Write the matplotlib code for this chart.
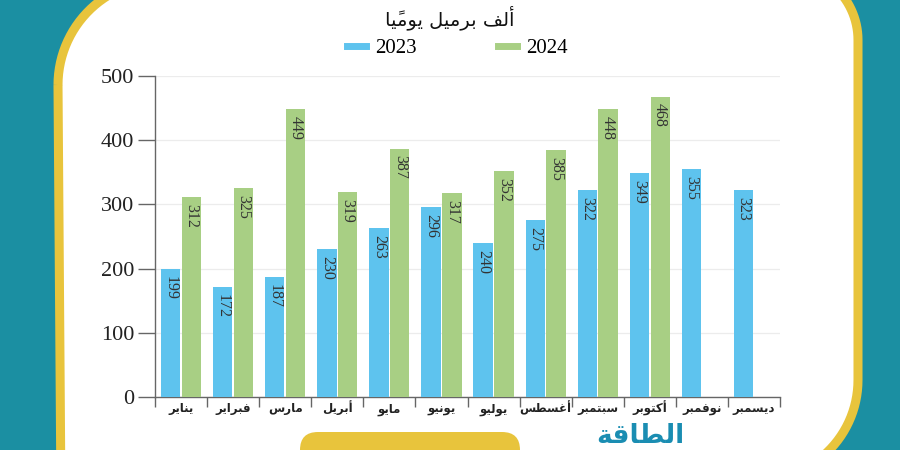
import numpy as np
import matplotlib
matplotlib.use('Agg')
import matplotlib.pyplot as plt
from matplotlib.path import Path
from matplotlib.patches import PathPatch, FancyBboxPatch
from matplotlib.lines import Line2D

# data
meses = ['يناير', 'فبراير', 'مارس', 'أبريل', 'مايو', 'يونيو',
         'يوليو', 'أغسطس', 'سبتمبر', 'أكتوبر', 'نوفمبر', 'ديسمبر']
valores_2023 = [199, 172, 187, 230, 263, 296, 240, 275, 322, 349, 355, 323]
valores_2024 = [312, 325, 449, 319, 387, 317, 352, 385, 448, 468]
series = ['2023', '2024']
titulo = 'ألف برميل يوميًا'
logo = 'الطاقة'

cor_azul = '#5ec3ee'
cor_verde = '#a8cf84'
cor_fundo = '#1b8fa2'
cor_amarelo = '#e8c43c'

# matplotlib nao faz shaping de arabe: formas de apresentacao + ordem visual
FORMAS = {
    'ا': ('\uFE8D', '\uFE8E', None, None),
    'أ': ('\uFE83', '\uFE84', None, None),
    'ب': ('\uFE8F', '\uFE90', '\uFE91', '\uFE92'),
    'ت': ('\uFE95', '\uFE96', '\uFE97', '\uFE98'),
    'د': ('\uFEA9', '\uFEAA', None, None),
    'ر': ('\uFEAD', '\uFEAE', None, None),
    'س': ('\uFEB1', '\uFEB2', '\uFEB3', '\uFEB4'),
    'ط': ('\uFEC1', '\uFEC2', '\uFEC3', '\uFEC4'),
    'غ': ('\uFECD', '\uFECE', '\uFECF', '\uFED0'),
    'ف': ('\uFED1', '\uFED2', '\uFED3', '\uFED4'),
    'ق': ('\uFED5', '\uFED6', '\uFED7', '\uFED8'),
    'ك': ('\uFED9', '\uFEDA', '\uFEDB', '\uFEDC'),
    'ل': ('\uFEDD', '\uFEDE', '\uFEDF', '\uFEE0'),
    'م': ('\uFEE1', '\uFEE2', '\uFEE3', '\uFEE4'),
    'ن': ('\uFEE5', '\uFEE6', '\uFEE7', '\uFEE8'),
    'ة': ('\uFE93', '\uFE94', None, None),
    'و': ('\uFEED', '\uFEEE', None, None),
    'ي': ('\uFEF1', '\uFEF2', '\uFEF3', '\uFEF4'),
}
MARCAS = '\u064B\u064C\u064D\u064E\u064F\u0650\u0651\u0652'


def arabe(texto):
    grupos = []
    for ch in texto:
        if ch in MARCAS and grupos:
            grupos[-1][1] += ch
        else:
            grupos.append([ch, ''])
    saida = []
    for i, (ch, marcas) in enumerate(grupos):
        if ch in FORMAS:
            ant = grupos[i - 1][0] if i > 0 else None
            prox = grupos[i + 1][0] if i + 1 < len(grupos) else None
            liga_ant = ant in FORMAS and FORMAS[ant][2] is not None
            liga_prox = prox in FORMAS and FORMAS[ch][2] is not None
            iso, fin, ini, med = FORMAS[ch]
            if liga_ant and liga_prox:
                ch = med
            elif liga_ant:
                ch = fin
            elif liga_prox:
                ch = ini
            else:
                ch = iso
        saida.append(ch + marcas)
    return ''.join(saida[::-1])


fig = plt.figure(figsize=(9, 4.5), dpi=100)
fig.patch.set_facecolor(cor_fundo)

# painel branco com borda amarela
bg = fig.add_axes([0, 0, 1, 1])
bg.set_xlim(0, 900)
bg.set_ylim(450, 0)
bg.axis('off')


def canto(cx, cy, r, a0, a1):
    t = np.radians(np.linspace(a0, a1, 30))
    return list(zip(cx + r * np.cos(t), cy + r * np.sin(t)))


pts = []
pts += canto(163, 85, 105, 180, 270)
pts += canto(786, 40, 72, 270, 360)
pts += canto(758, 380, 100, 0, 90)
pts += [(61, 500)]
pts.append(pts[0])
painel = PathPatch(Path(pts), facecolor='white', edgecolor=cor_amarelo, lw=6.5)
bg.add_patch(painel)

# pilula amarela e logo no rodape
bg.add_patch(FancyBboxPatch((300, 432), 220, 40, boxstyle='round,pad=0,rounding_size=18',
                            facecolor=cor_amarelo, edgecolor='none'))
bg.text(640, 449, arabe(logo), family='DejaVu Sans', fontweight='bold', fontsize=19,
        color='#1a8db2', ha='center', va='bottom')

ax = fig.add_axes([155 / 900, 53 / 450, 625 / 900, 321 / 450])
ax.patch.set_alpha(0)

x = np.arange(len(meses))
larg = 0.37
b1 = ax.bar(x - 0.2, valores_2023, larg, color=cor_azul, zorder=3)
b2 = ax.bar(x[:len(valores_2024)] + 0.2, valores_2024, larg, color=cor_verde, zorder=3)

for barras in (b1, b2):
    for b in barras:
        ax.annotate(str(int(b.get_height())), (b.get_x() + b.get_width() / 2, b.get_height()),
                    xytext=(0, -5), textcoords='offset points', rotation=270,
                    ha='center', va='top', fontsize=11.5, family='Liberation Serif',
                    color='#333333', zorder=4)

ax.set_xlim(-0.5, 11.5)
ax.set_ylim(0, 500)
ax.set_yticks([0, 100, 200, 300, 400, 500])
ax.yaxis.grid(True, color='#ececec', lw=0.9, zorder=0)
for lab in ax.get_yticklabels():
    lab.set_family('Liberation Serif')
    lab.set_fontsize(16)
    lab.set_color('#222222')
ax.tick_params(axis='y', length=12, width=1, color='#666666', pad=3)

ax.set_xticks(x)
ax.set_xticklabels([arabe(m) for m in meses], family='DejaVu Sans', fontweight='bold',
                   fontsize=8.5, color='#222222', va='baseline')
ax.set_xticks(np.arange(-0.5, 12, 1), minor=True)
ax.tick_params(axis='x', which='major', length=0, pad=11)
ax.tick_params(axis='x', which='minor', length=7, width=1, color='#666666')

for s in ['top', 'right']:
    ax.spines[s].set_visible(False)
for s in ['left', 'bottom']:
    ax.spines[s].set_color('#666666')
    ax.spines[s].set_linewidth(1)

fig.text(0.5, 1 - 18 / 450, arabe(titulo), family='DejaVu Sans', fontsize=14,
         ha='center', va='center', color='#111111')

handles = [Line2D([0], [0], color=cor_azul, lw=5), Line2D([0], [0], color=cor_verde, lw=5)]
fig.legend(handles, series, loc='center', bbox_to_anchor=(0.508, 1 - 48 / 450), ncol=2,
           frameon=False, prop={'family': 'Liberation Serif', 'size': 15},
           handlelength=0.9, handletextpad=0.45, columnspacing=3.9)

plt.savefig('out.png', dpi=100, facecolor=fig.get_facecolor())
